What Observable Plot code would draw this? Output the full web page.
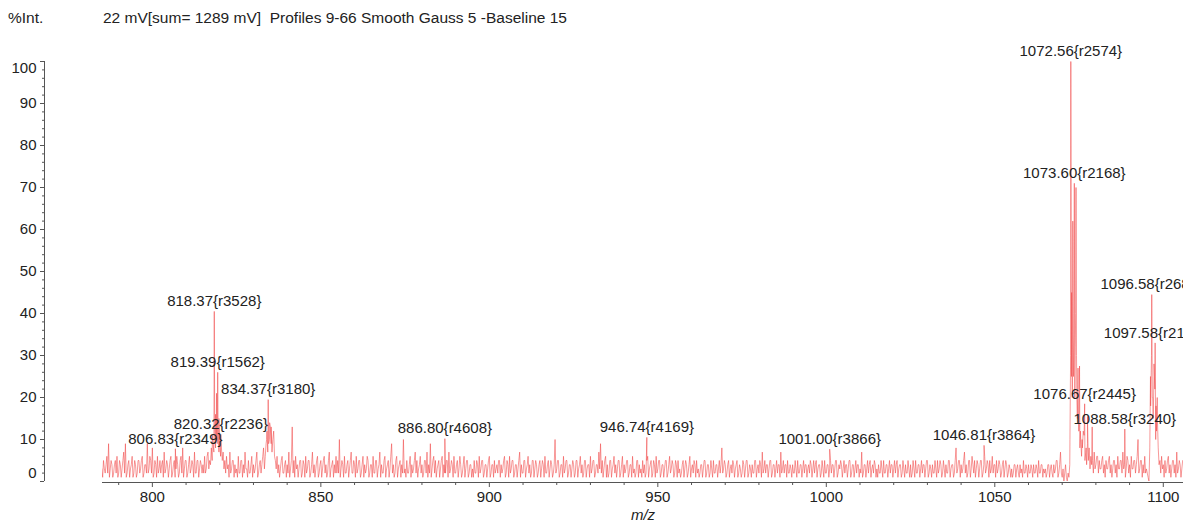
<!DOCTYPE html>
<html><head><meta charset="utf-8">
<script src="https://cdn.jsdelivr.net/npm/d3@7"></script>
<script src="https://cdn.jsdelivr.net/npm/@observablehq/plot@0.6"></script>
<style>
body{margin:0;background:#fff;overflow:hidden;font-family:Arial,"Liberation Sans",sans-serif;}
#wrap{position:relative;width:1183px;height:525px;}
#hdr{position:absolute;top:0;left:0;width:1183px;height:30px;font-size:15.5px;line-height:17px;white-space:pre;color:#222;}
#hdr span{position:absolute;top:9px;}
#chart{position:absolute;top:0;left:0;}
</style></head><body>
<div id="wrap">
<div id="chart"></div>
<div id="hdr"><span style="left:8px">%Int.</span><span style="left:103px">22 mV[sum= 1289 mV]  Profiles 9-66 Smooth Gauss 5 -Baseline 15</span></div>
</div>
<script>
// m/z axis range and ticks
const xMin = 785.2, xMax = 1106;
const majorX = [800, 850, 900, 950, 1000, 1050, 1100];
const minorX = [790, 810, 820, 830, 840, 860, 870, 880, 890, 910, 920, 930, 940, 960, 970, 980, 990, 1010, 1020, 1030, 1040, 1060, 1070, 1080, 1090];
const majorY = [10, 20, 30, 40, 50, 60, 70, 80, 90];
const endY = [0, 100];
const minorY = [2,4,6,8,12,14,16,18,22,24,26,28,32,34,36,38,42,44,46,48,52,54,56,58,62,64,66,68,72,74,76,78,82,84,86,88,92,94,96,98];

// baseline profile: intensity (%) sampled every 0.25 m/z from 785 (one row = 10 m/z)
const noiseStart = 785, noiseStep = 0.25;
const noise = [
  3,1,5,3,2,4,6,2,9,1,3,5,4,1,2,4,5,2,6,1, 2,5,4,1,3,5,7,2,9,1,2,4,5,1,3,4,6,1,2,5,
  4,1,2,5,5,2,3,5,6,1,2,4,4,2,9,2,3,6,5,2, 8,1,2,5,4,1,6,2,3,5,2,4,5,1,7,2,3,5,4,1,
  3,5,6,1,2,4,5,1,3,6,4,1,2,5,6,2,8,1,3,5, 5,1,2,4,6,2,3,5,4,1,7,2,2,5,5,1,3,5,4,2,
  4,2,6,2,3,6,7,3,5,4,8,5,9,7,12,8,10,9,13,7, 9,6,8,5,7,3,5,2,6,3,4,1,7,2,3,5,5,1,4,2,
  3,1,6,2,2,5,5,1,4,2,7,3,3,1,5,2,2,4,6,1, 4,2,3,5,7,1,2,4,5,2,4,6,8,3,6,9,12,7,9,10,
  13,9,7,10,12,6,5,3,6,2,4,1,3,5,6,2,2,4,5,1, 4,2,7,1,3,5,13,2,5,1,6,3,4,1,3,5,5,1,2,5,
  4,1,6,2,3,5,5,1,2,4,7,2,4,1,3,5,6,1,2,4, 5,1,3,5,6,2,4,1,2,5,7,1,3,4,5,1,4,2,6,2,
  5,2,10,1,3,5,4,1,6,2,2,4,5,1,3,5,7,2,2,5, 4,1,6,2,3,5,5,1,2,4,6,1,4,2,3,6,5,1,2,4,
  4,1,6,2,2,5,5,1,3,4,7,1,4,2,2,5,6,1,3,4, 5,1,3,6,9,2,4,1,2,5,6,1,3,4,5,1,4,2,10,2,
  3,1,5,2,2,4,6,1,4,2,3,5,7,2,5,1,3,4,6,2, 4,1,2,5,5,2,7,1,4,2,9,1,3,5,6,2,5,1,3,4,
  5,1,3,5,6,1,4,2,2,5,5,1,7,2,3,5,4,1,6,2, 2,4,5,1,3,6,4,1,2,4,6,1,3,5,5,1,2,4,4,1,
  3,1,5,2,2,5,4,1,6,2,3,5,5,1,2,4,4,1,3,5, 6,1,2,4,4,1,5,2,3,4,2,5,5,1,4,2,3,5,6,1,
  2,5,4,1,6,2,3,5,5,1,2,4,4,1,3,5,7,1,4,2, 2,5,5,1,3,4,6,2,4,1,2,5,5,1,3,5,4,1,2,4,
  5,1,3,5,4,1,6,2,2,4,5,1,3,5,4,1,2,4,10,2, 3,5,5,1,2,4,4,1,6,2,3,5,5,1,2,4,4,1,3,5,
  4,1,2,5,5,1,3,4,6,2,4,1,2,5,5,1,3,4,4,1, 6,2,3,5,5,1,2,4,4,2,7,3,9,2,5,1,3,5,6,1,
  4,1,2,5,5,1,3,4,6,2,4,1,3,5,5,1,2,4,6,1, 4,2,3,5,5,1,2,4,4,1,6,2,3,1,2,5,5,1,4,2,
  3,1,5,2,4,1,2,5,6,1,3,4,5,1,2,5,4,1,6,2, 3,5,5,1,2,4,4,1,3,5,5,1,2,4,6,2,3,5,4,1,
  2,5,4,1,5,2,3,1,2,4,5,1,3,5,4,1,2,4,6,1, 3,4,2,5,4,1,5,2,3,1,2,4,4,1,3,5,5,1,2,4,
  4,1,2,5,3,1,5,2,2,4,4,1,3,5,2,4,8,2,3,5, 4,1,2,4,5,1,3,4,2,5,4,1,3,4,5,1,2,4,3,1,
  2,5,4,1,3,5,5,1,2,4,3,1,4,2,2,5,5,1,3,4, 2,5,4,1,7,2,3,5,2,4,4,1,3,5,5,1,2,4,4,1,
  3,5,2,4,4,1,7,2,3,5,2,4,4,1,5,2,2,4,3,1, 4,2,2,5,3,1,5,2,2,4,4,1,3,5,2,4,4,1,3,4,
  2,5,4,1,3,5,2,4,5,1,3,4,4,1,2,5,3,1,5,2, 2,4,4,1,3,5,2,4,4,1,3,5,5,1,2,4,3,5,4,1,
  3,5,2,4,4,1,3,5,5,1,2,4,4,1,3,5,2,4,4,1, 3,2,7,1,2,4,4,1,3,5,2,4,5,1,3,4,2,5,4,1,
  3,1,4,2,2,5,3,1,5,2,2,4,4,1,3,5,2,4,4,1, 3,5,2,4,5,1,3,4,4,1,2,5,3,1,4,2,2,5,3,1,
  4,1,2,5,3,1,5,2,2,4,4,1,3,5,2,4,4,1,3,5, 5,1,2,4,3,1,4,2,2,5,3,1,5,2,3,5,4,1,2,5,
  3,1,4,2,2,5,5,1,3,4,4,1,2,5,8,2,3,5,5,1, 4,2,3,5,7,2,4,1,2,5,5,1,3,6,4,2,5,1,3,5,
  4,1,3,5,5,1,2,4,6,2,3,5,4,1,5,2,3,6,2,4, 4,1,5,2,3,5,4,1,2,4,5,1,3,5,4,1,2,4,3,1,
  3,1,2,4,4,1,3,4,2,1,4,2,3,1,5,2,2,4,3,1, 4,2,2,4,3,1,4,2,2,4,3,1,5,2,2,4,4,1,3,2,
  3,1,2,4,4,1,3,4,2,1,4,2,3,5,5,1,2,4,7,2, 1,3,0,2,4,1,0,2,1,4,30,25,20,40,35,20,40,30,15,20,
  12,8,10,6,8,12,11,5,7,4,9,5,8,3,6,4,5,2,7,3, 4,6,6,2,5,3,3,5,6,2,4,1,5,3,3,5,6,2,4,1,
  3,5,5,2,4,1,6,3,3,5,5,2,7,3,4,1,3,6,5,2, 4,1,6,3,3,5,5,2,4,6,10,2,3,5,5,1,4,2,6,2,
  3,2,1,0,8,18,30,20,15,25,22,10,12,15,8,4,5,2,6,3, 4,1,5,2,3,5,6,2,4,1,3,5,5,2,4,1,7,2,3,5,
  4,1,3,5,5
];

// peak apexes and shoulders (m/z, intensity %)
const peakMz  = [806.83, 817.8, 818.37, 818.75, 819.05, 819.39, 819.75, 820.32, 833.9, 834.37, 834.8, 835.25,
                 886.80, 946.74, 1001.00, 1046.81,
                 1072.3, 1072.56, 1072.8, 1073.15, 1073.35, 1073.6, 1073.85, 1074.1, 1074.35, 1074.7, 1074.9, 1075.15, 1075.4, 1075.9, 1076.67, 1077.1, 1077.5, 1078.9,
                 1088.58, 1096.2, 1096.58, 1096.85, 1097.25, 1097.58, 1097.85, 1098.2];
const peakInt = [7.8, 11, 40.5, 16, 21, 26, 15, 11.2, 10, 19.5, 14, 13,
                 10.2, 10.5, 7.7, 8.6,
                 10, 100, 45, 62, 25, 71, 30, 70, 20, 27, 12, 27.5, 12, 10, 18.5, 8, 15.5, 13,
                 12.5, 25, 44.5, 20, 28, 33, 18, 20];

// annotated peaks
const labelMz   = [806.83, 818.37, 819.39, 820.32, 834.37, 886.80, 946.74, 1001.00, 1046.81, 1072.56, 1073.6, 1076.67, 1088.58, 1096.58, 1097.58];
const labelText = ["806.83{r2349}", "818.37{r3528}", "819.39{r1562}", "820.32{r2236}", "834.37{r3180}", "886.80{r4608}", "946.74{r4169}",
                   "1001.00{r3866}", "1046.81{r3864}", "1072.56{r2574}", "1073.60{r2168}", "1076.67{r2445}", "1088.58{r3240}", "1096.58{r2681}", "1097.58{r2163}"];

const profile = noise.map((v, i) => ({mz: noiseStart + i * noiseStep, int: v}))
  .concat(peakMz.map((m, i) => ({mz: m, int: peakInt[i]})))
  .sort((a, b) => a.mz - b.mz);
const labels = labelMz.map((m, i) => ({mz: m, int: peakInt[peakMz.indexOf(m)], text: labelText[i]}));

const font = "Arial, 'Liberation Sans', sans-serif";
const axisColor = "#555";
const chart = Plot.plot({
  width: 1183, height: 525,
  marginTop: 61, marginBottom: 44, marginLeft: 102, marginRight: 0,
  x: {domain: [xMin, xMax]},
  y: {domain: [0, 100]},
  style: {fontFamily: font, fontSize: "15px", color: "#222", background: "transparent"},
  marks: [
    Plot.line(profile, {x: "mz", y: "int", stroke: "#f04545", strokeWidth: 0.65, strokeOpacity: 0.85, clip: true}),
    Plot.ruleY([0], {dy: 1, stroke: axisColor}),
    Plot.axisX({ticks: minorX, tickSize: 3, dy: 1, stroke: axisColor, tickFormat: () => "", label: null}),
    Plot.axisX({ticks: majorX, tickSize: 5, dy: 1, tickPadding: 4, stroke: axisColor, tickFormat: d => String(d), label: null, fill: "#222"}),
    Plot.text(["m/z"], {frameAnchor: "bottom", dy: 38, fontStyle: "italic", fill: "#222"}),
    Plot.ruleX([xMin], {y1: 0, y2: 100, dx: -58, stroke: axisColor}),
    Plot.axisY({ticks: minorY, tickSize: 2, dx: -58, stroke: axisColor, tickFormat: () => "", label: null}),
    Plot.axisY({ticks: majorY, tickSize: 4, tickPadding: 4, dx: -58, stroke: axisColor, tickFormat: d => String(d), label: null, fill: "#222"}),
    Plot.axisY({ticks: endY, tickSize: 4, dx: -58, stroke: axisColor, tickFormat: () => "", label: null}),
    Plot.text(endY.filter(d => d === 0), {y: d => d, frameAnchor: "left", dx: -66, dy: -8, textAnchor: "end", text: d => String(d), fill: "#222"}),
    Plot.text(endY.filter(d => d === 100), {y: d => d, frameAnchor: "left", dx: -66, dy: 7, textAnchor: "end", text: d => String(d), fill: "#222"}),
    Plot.text(labels, {x: "mz", y: "int", text: "text", dy: -10, fill: "#222"})
  ]
});
document.getElementById("chart").appendChild(chart);
</script>
</body></html>
